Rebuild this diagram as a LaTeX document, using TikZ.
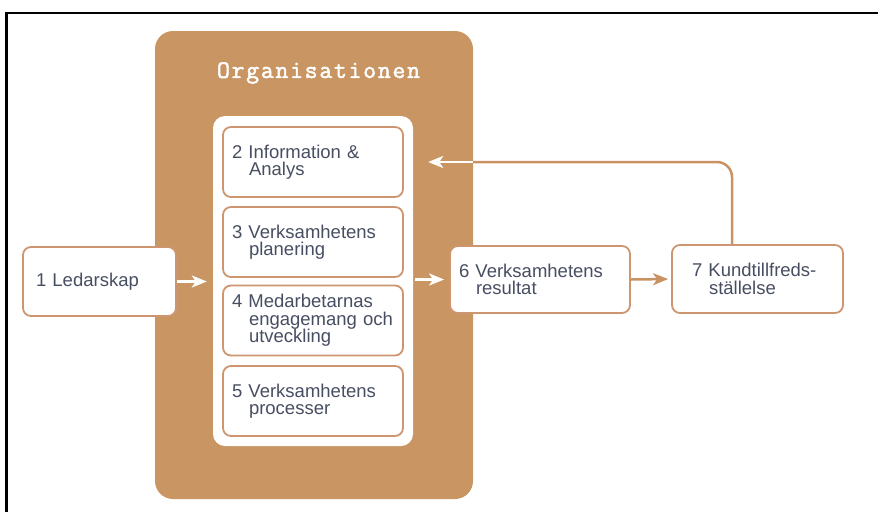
\documentclass[tikz,border=0pt]{standalone}
\usepackage{fontspec}
\setmainfont{Liberation Sans}
\newfontfamily\titlefont{Latin Modern Mono}[LetterSpace=7, FakeBold=2]
\usetikzlibrary{arrows.meta,calc}

\definecolor{orgfill}{RGB}{201,149,99}
\definecolor{boxline}{RGB}{206,150,112}
\definecolor{labeltext}{RGB}{72,78,98}
\definecolor{linkline}{RGB}{200,146,98}

\tikzset{
  orgbox/.style={rectangle, rounded corners=18pt, fill=orgfill, draw=none,
    minimum width=318pt, minimum height=468pt, inner sep=0pt},
  panelbox/.style={rectangle, rounded corners=12pt, fill=white, draw=none,
    minimum width=200pt, minimum height=330pt, inner sep=0pt},
  stepbox/.style={rectangle, rounded corners=8pt, fill=white, draw=boxline,
    line width=1.8pt, inner ysep=0pt, align=left, text=labeltext,
    font=\fontsize{18.5pt}{17.5pt}\selectfont},
  midbox/.style={stepbox, inner xsep=9pt, text width=162pt, minimum height=70pt},
  whitearrow/.style={draw=white, line width=2.5pt,
    -{Stealth[length=15pt,width=12pt,inset=4pt]}},
  tanarrow/.style={draw=linkline, line width=2.5pt,
    -{Stealth[length=15pt,width=12pt,inset=4pt]}},
  tanline/.style={draw=linkline, line width=2.5pt},
  frameline/.style={draw=black, line width=2.5pt},
}
\newcommand{\contline}{\hspace*{17pt}}

\begin{document}
\begin{tikzpicture}[x=1pt,y=-1pt]
  \useasboundingbox (0,0) rectangle (878,512);

  % outer frame (top and left edges)
  \coordinate (frameTL) at (6.5,13);
  \coordinate (frameTR) at (878,13);
  \coordinate (frameBL) at (6.5,512);
  \draw[frameline] (frameTR) -- (frameTL) -- (frameBL);

  % organisation block and inner white panel
  \node[orgbox] (org) at (314,265) {};
  \node[text=white, font=\titlefont\fontsize{25pt}{25pt}\selectfont]
    (orgtitle) at (318.5,73) {Organisationen};
  \node[panelbox] (panel) at (313,281) {};

  % enablers inside the organisation
  \node[midbox] (b2) at (313,162) {2 Information \&\\\contline Analys};
  \node[midbox] (b3) at (313,242) {3 Verksamhetens\\\contline planering};
  \node[midbox] (b4) at (313,320.5) {4 Medarbetarnas\\\contline engagemang och\\\contline utveckling};
  \node[midbox] (b5) at (313,401) {5 Verksamhetens\\\contline processer};

  % leadership, results and customer satisfaction
  \node[stepbox, inner xsep=13pt, text width=127pt, minimum height=69pt]
    (b1) at (99.5,281.5) {1 Ledarskap};
  \node[stepbox, inner xsep=9pt, text width=162pt, minimum height=67pt]
    (b6) at (540,279.5) {6 Verksamhetens\\\contline resultat};
  \node[stepbox, inner xsep=20pt, text width=131pt, minimum height=68pt]
    (b7) at (757.5,279) {7 Kundtillfreds-\\\contline ställelse};

  % flow arrows
  \draw[whitearrow, shorten >=6pt] (b1.east) -- (b1.east -| panel.west);
  \draw[whitearrow, shorten <=2pt, shorten >=5pt] (panel.east |- b6.west) -- (b6.west);
  \draw[tanarrow, shorten >=3pt] (b6.east) -- (b7.west);

  % feedback loop from customer satisfaction back to information & analysis
  \coordinate (fbstart) at ($(b7.north)+(-25.5,0)$);
  \draw[tanline, rounded corners=15pt] (fbstart) |- (org.east |- b2.east);
  \draw[whitearrow, shorten >=15pt] (org.east |- b2.east) -- (panel.east |- b2.east);
\end{tikzpicture}
\end{document}
